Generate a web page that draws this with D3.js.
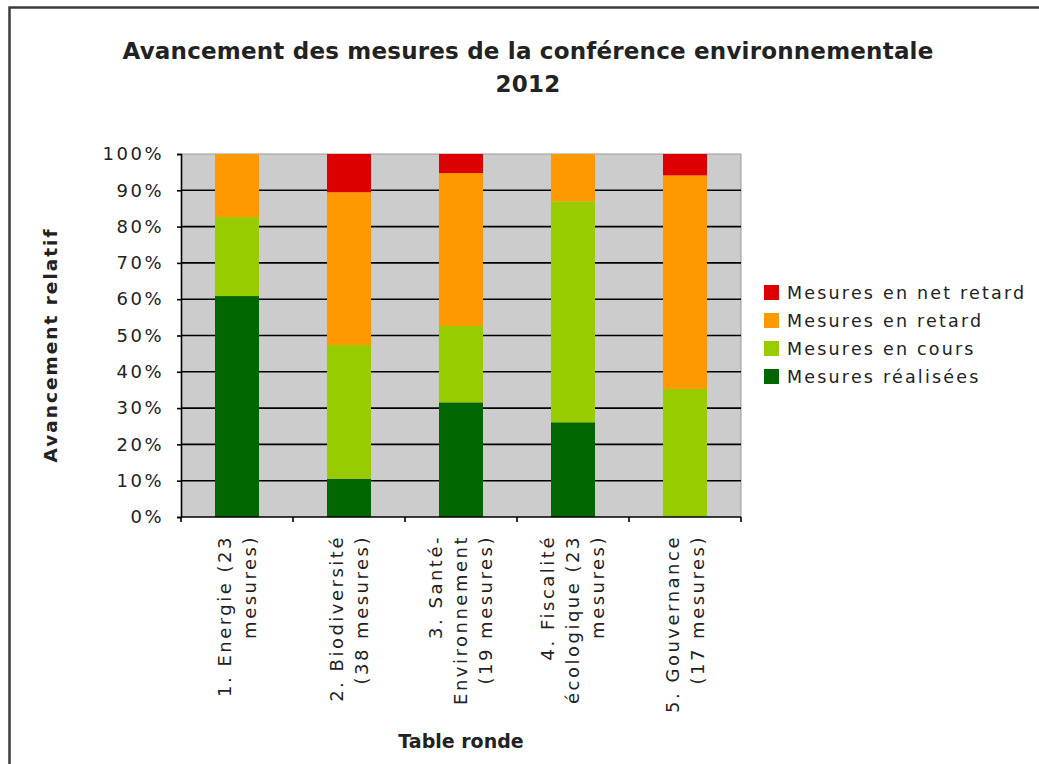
<!DOCTYPE html>
<html>
<head>
<meta charset="utf-8">
<script src="https://cdn.jsdelivr.net/npm/d3@7"></script>
<style>
  body { margin: 0; background: #fff; }
  svg text { font-family: "DejaVu Sans", Verdana, sans-serif; fill: #222; }
</style>
</head>
<body>
<div id="chart"></div>
<script>
// table rondes (categories) and the label lines shown under each bar
const categories = ["Energie", "Biodiversité", "Santé-Environnement", "Fiscalité écologique", "Gouvernance"];
const categoryLines = [
  ["1. Energie (23", "mesures)"],
  ["2. Biodiversité", "(38 mesures)"],
  ["3. Santé-", "Environnement", "(19 mesures)"],
  ["4. Fiscalité", "écologique (23", "mesures)"],
  ["5. Gouvernance", "(17 mesures)"]
];

// number of measures in each state, per table ronde
const realisees  = [14, 4, 6, 6, 0];
const enCours    = [5, 14, 4, 14, 6];
const enRetard   = [4, 16, 8, 3, 10];
const netRetard  = [0, 4, 1, 0, 1];

const seriesNames = ["Mesures réalisées", "Mesures en cours", "Mesures en retard", "Mesures en net retard"];
const seriesColors = ["#006600", "#99cc00", "#ff9900", "#dd0000"];
const yTicks = [0, 0.1, 0.2, 0.3, 0.4, 0.5, 0.6, 0.7, 0.8, 0.9, 1];

(function() {
  const W = 1039, H = 764;
  const plot = {left: 181, right: 741, top: 154, bottom: 517};

  const rows = categories.map((c, i) => ({
    cat: c,
    "Mesures réalisées": realisees[i],
    "Mesures en cours": enCours[i],
    "Mesures en retard": enRetard[i],
    "Mesures en net retard": netRetard[i]
  }));

  const stack = d3.stack().keys(seriesNames).offset(d3.stackOffsetExpand);
  const layers = stack(rows);

  const x = d3.scaleBand().domain(categories)
      .range([plot.left, plot.right])
      .paddingInner(0.607).paddingOuter(0.3035);
  const y = d3.scaleLinear().domain([0, 1]).range([plot.bottom, plot.top]);
  const color = d3.scaleOrdinal().domain(seriesNames).range(seriesColors);

  const svg = d3.select("#chart").append("svg")
      .attr("width", W).attr("height", H);

  // outer frame (only left and top edges visible)
  svg.append("path")
      .attr("d", "M9.5," + H + "V7.5H" + W)
      .attr("fill", "none").attr("stroke", "#3c3c3c").attr("stroke-width", 2.5);

  // title
  const title = svg.append("text")
      .attr("text-anchor", "middle")
      .style("font-weight", "bold").style("font-size", "23px").style("letter-spacing", "0.2px");
  title.append("tspan").attr("x", 528).attr("y", 59).text("Avancement des mesures de la conférence environnementale");
  title.append("tspan").attr("x", 528).attr("y", 92).text("2012");

  // plot background
  svg.append("rect")
      .attr("x", plot.left).attr("y", plot.top)
      .attr("width", plot.right - plot.left).attr("height", plot.bottom - plot.top)
      .attr("fill", "#cccccc");
  svg.append("path")
      .attr("d", "M" + plot.left + "," + plot.top + "H" + plot.right + "V" + plot.bottom)
      .attr("fill", "none").attr("stroke", "#999").attr("stroke-width", 1);

  // gridlines
  svg.append("g").selectAll("line")
      .data(yTicks.filter(d => d > 0 && d < 1))
      .join("line")
      .attr("x1", plot.left).attr("x2", plot.right)
      .attr("y1", d => y(d)).attr("y2", d => y(d))
      .attr("stroke", "#000").attr("stroke-width", 1.6);

  // bars
  svg.append("g").selectAll("g")
      .data(layers)
      .join("g")
      .attr("fill", d => color(d.key))
    .selectAll("rect")
      .data(d => d)
      .join("rect")
      .attr("x", d => x(d.data.cat))
      .attr("y", d => y(d[1]))
      .attr("width", x.bandwidth())
      .attr("height", d => y(d[0]) - y(d[1]));

  // y axis
  const yAxis = svg.append("g")
      .attr("transform", "translate(" + plot.left + ",0)")
      .call(d3.axisLeft(y).tickValues(yTicks).tickFormat(d3.format(".0%")).tickSize(4).tickPadding(13));
  yAxis.select(".domain").attr("stroke", "#000").attr("stroke-width", 1.6);
  yAxis.selectAll(".tick line").attr("stroke", "#000").attr("stroke-width", 1.6);
  yAxis.selectAll("text")
      .attr("fill", "#222")
      .style("font-family", "DejaVu Sans, sans-serif")
      .style("font-size", "18px").style("letter-spacing", "2.5px");

  // x axis line and ticks at band edges
  svg.append("line")
      .attr("x1", plot.left).attr("x2", plot.right)
      .attr("y1", plot.bottom).attr("y2", plot.bottom)
      .attr("stroke", "#000").attr("stroke-width", 1.6);
  const edges = d3.range(categories.length + 1).map(i => plot.left + i * x.step());
  svg.append("g").selectAll("line")
      .data(edges)
      .join("line")
      .attr("x1", d => d).attr("x2", d => d)
      .attr("y1", plot.bottom).attr("y2", plot.bottom + 5)
      .attr("stroke", "#000").attr("stroke-width", 1.6);

  // rotated category labels
  const lineGap = 25;
  svg.append("g").selectAll("g")
      .data(categories)
      .join("g")
      .each(function(c, i) {
        const lines = categoryLines[i];
        const cx = x(c) + x.bandwidth() / 2;
        d3.select(this).selectAll("text")
            .data(lines)
            .join("text")
            .attr("transform", (l, j) => "translate(" + (cx + (j - (lines.length - 1) / 2) * lineGap + 6) + ",535) rotate(-90)")
            .attr("text-anchor", "end")
            .style("font-size", "18px").style("letter-spacing", "2.5px")
            .text(l => l);
      });

  // axis titles
  svg.append("text")
      .attr("transform", "translate(57,345) rotate(-90)")
      .attr("text-anchor", "middle")
      .style("font-weight", "bold").style("font-size", "18.5px").style("letter-spacing", "2px")
      .text("Avancement relatif");
  svg.append("text")
      .attr("x", 461).attr("y", 748)
      .attr("text-anchor", "middle")
      .style("font-weight", "bold").style("font-size", "19px")
      .text("Table ronde");

  // legend (top to bottom: net retard first)
  const legend = svg.append("g").attr("transform", "translate(764,285)");
  const legendItems = legend.selectAll("g")
      .data(seriesNames.slice().reverse())
      .join("g")
      .attr("transform", (d, i) => "translate(0," + i * 28 + ")");
  legendItems.append("rect")
      .attr("width", 15).attr("height", 15)
      .attr("fill", d => color(d));
  legendItems.append("text")
      .attr("x", 23).attr("y", 14)
      .style("font-size", "17.5px").style("letter-spacing", "2.2px")
      .text(d => d);
})();
</script>
</body>
</html>
